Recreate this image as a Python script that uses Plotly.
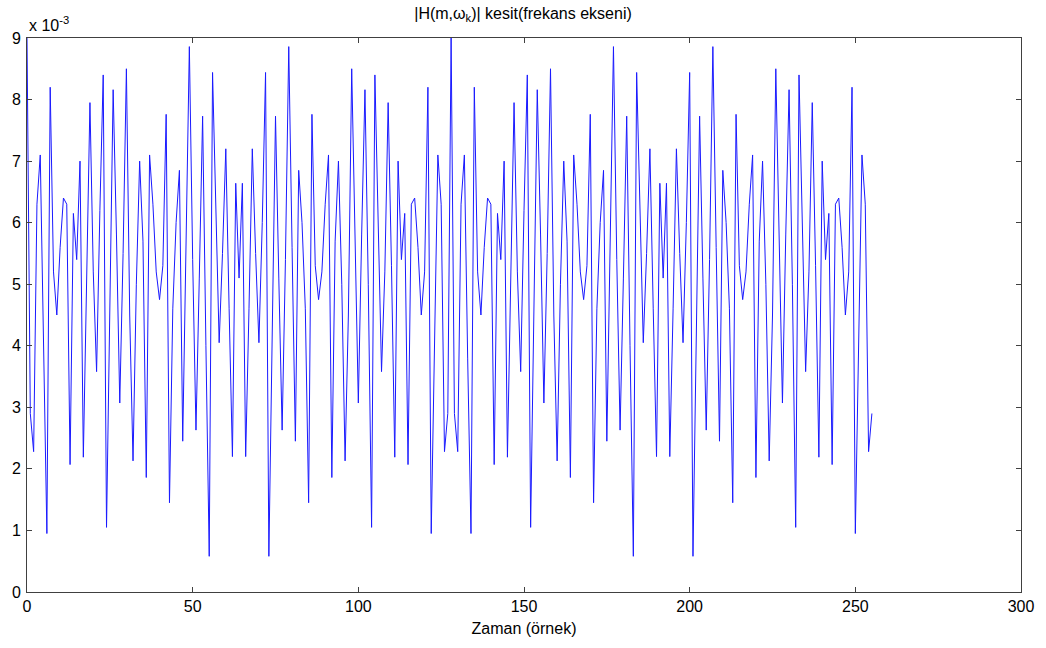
import plotly.graph_objects as go

# |H(m, w_k)| cross-section, values in units of 1e-3, one period (n = 0..127)
samples_0_127 = [
    9.00, 2.90, 2.28, 6.30, 7.10, 3.80, 0.95, 8.20, 5.20, 4.50,
    5.60, 6.40, 6.30, 2.07, 6.15, 5.40, 7.00, 2.19, 5.30, 7.95,
    5.20, 3.58, 6.20, 8.40, 1.05, 5.00, 8.16, 5.80, 3.07, 5.50,
    8.50, 4.50, 2.13, 5.00, 7.00, 5.70, 1.86, 7.10, 6.30, 5.20,
    4.75, 5.30, 7.76, 1.45, 4.60, 6.00, 6.85, 2.45, 5.60, 8.86,
    5.40, 2.63, 5.10, 7.73, 4.00, 0.58, 8.44, 6.00, 4.05, 5.50,
    7.20, 4.60, 2.20, 6.64, 5.10, 6.64, 2.20, 4.60, 7.20, 5.50,
    4.05, 6.00, 8.44, 0.58, 4.00, 7.73, 5.10, 2.63, 5.40, 8.86,
    5.60, 2.45, 6.85, 6.00, 4.60, 1.45, 7.76, 5.30, 4.75, 5.20,
    6.30, 7.10, 1.86, 5.70, 7.00, 5.00, 2.13, 4.50, 8.50, 5.50,
    3.07, 5.80, 8.16, 5.00, 1.05, 8.40, 6.20, 3.58, 5.20, 7.95,
    5.30, 2.19, 7.00, 5.40, 6.15, 2.07, 6.30, 6.40, 5.60, 4.50,
    5.20, 8.20, 0.95, 3.80, 7.10, 6.30, 2.28, 2.90,
]
# second period (n = 128..255)
samples_128_255 = [
    9.00, 2.90, 2.28, 6.30, 7.10, 3.80, 0.95, 8.20, 5.20, 4.50,
    5.60, 6.40, 6.30, 2.07, 6.15, 5.40, 7.00, 2.19, 5.30, 7.95,
    5.20, 3.58, 6.20, 8.40, 1.05, 5.00, 8.16, 5.80, 3.07, 5.50,
    8.50, 4.50, 2.13, 5.00, 7.00, 5.70, 1.86, 7.10, 6.30, 5.20,
    4.75, 5.30, 7.76, 1.45, 4.60, 6.00, 6.85, 2.45, 5.60, 8.86,
    5.40, 2.63, 5.10, 7.73, 4.00, 0.58, 8.44, 6.00, 4.05, 5.50,
    7.20, 4.60, 2.20, 6.64, 5.10, 6.64, 2.20, 4.60, 7.20, 5.50,
    4.05, 6.00, 8.44, 0.58, 4.00, 7.73, 5.10, 2.63, 5.40, 8.86,
    5.60, 2.45, 6.85, 6.00, 4.60, 1.45, 7.76, 5.30, 4.75, 5.20,
    6.30, 7.10, 1.86, 5.70, 7.00, 5.00, 2.13, 4.50, 8.50, 5.50,
    3.07, 5.80, 8.16, 5.00, 1.05, 8.40, 6.20, 3.58, 5.20, 7.95,
    5.30, 2.19, 7.00, 5.40, 6.15, 2.07, 6.30, 6.40, 5.60, 4.50,
    5.20, 8.20, 0.95, 3.80, 7.10, 6.30, 2.28, 2.90,
]

values = samples_0_127 + samples_128_255
sample_index = list(range(len(values)))

x_ticks = [0, 50, 100, 150, 200, 250, 300]
y_ticks = [0, 1, 2, 3, 4, 5, 6, 7, 8, 9]

title_text = "|H(m,ω<sub>k</sub>)| kesit(frekans ekseni)"
x_label = "Zaman (örnek)"
y_scale_label = "x 10<sup>-3</sup>"

FONT = "Liberation Sans, Arial, sans-serif"

fig = go.Figure()
fig.add_trace(go.Scatter(
    x=sample_index, y=values, mode="lines",
    line=dict(color="#1a1aff", width=1),
    hoverinfo="skip", showlegend=False,
))

axis_common = dict(
    showgrid=False, zeroline=False,
    showline=True, linecolor="#404040", linewidth=1, mirror="ticks",
    ticks="inside", ticklen=5, tickcolor="#404040",
    tickfont=dict(family=FONT, size=16, color="#000000"),
)

fig.update_layout(
    width=1046, height=648,
    margin=dict(l=27, r=22, t=38, b=56),
    paper_bgcolor="white", plot_bgcolor="white",
    font=dict(family=FONT, size=16, color="#000000"),
    title=dict(text=title_text, x=0.5, xanchor="center", y=0.988, yanchor="top",
               font=dict(family=FONT, size=16, color="#000000")),
    xaxis=dict(range=[0, 300], tickvals=x_ticks, ticktext=[str(t) for t in x_ticks],
               title=dict(text=x_label, standoff=8, font=dict(family=FONT, size=16)),
               **axis_common),
    yaxis=dict(range=[0, 9], tickvals=y_ticks, ticktext=[str(t) for t in y_ticks],
               ticklabelstandoff=2, **axis_common),
)

fig.add_annotation(
    text=y_scale_label, xref="paper", yref="paper", x=0.0, y=1.0,
    xanchor="left", yanchor="bottom", showarrow=False, yshift=2,
    font=dict(family=FONT, size=16, color="#000000"),
)

fig.write_html("out.html")
